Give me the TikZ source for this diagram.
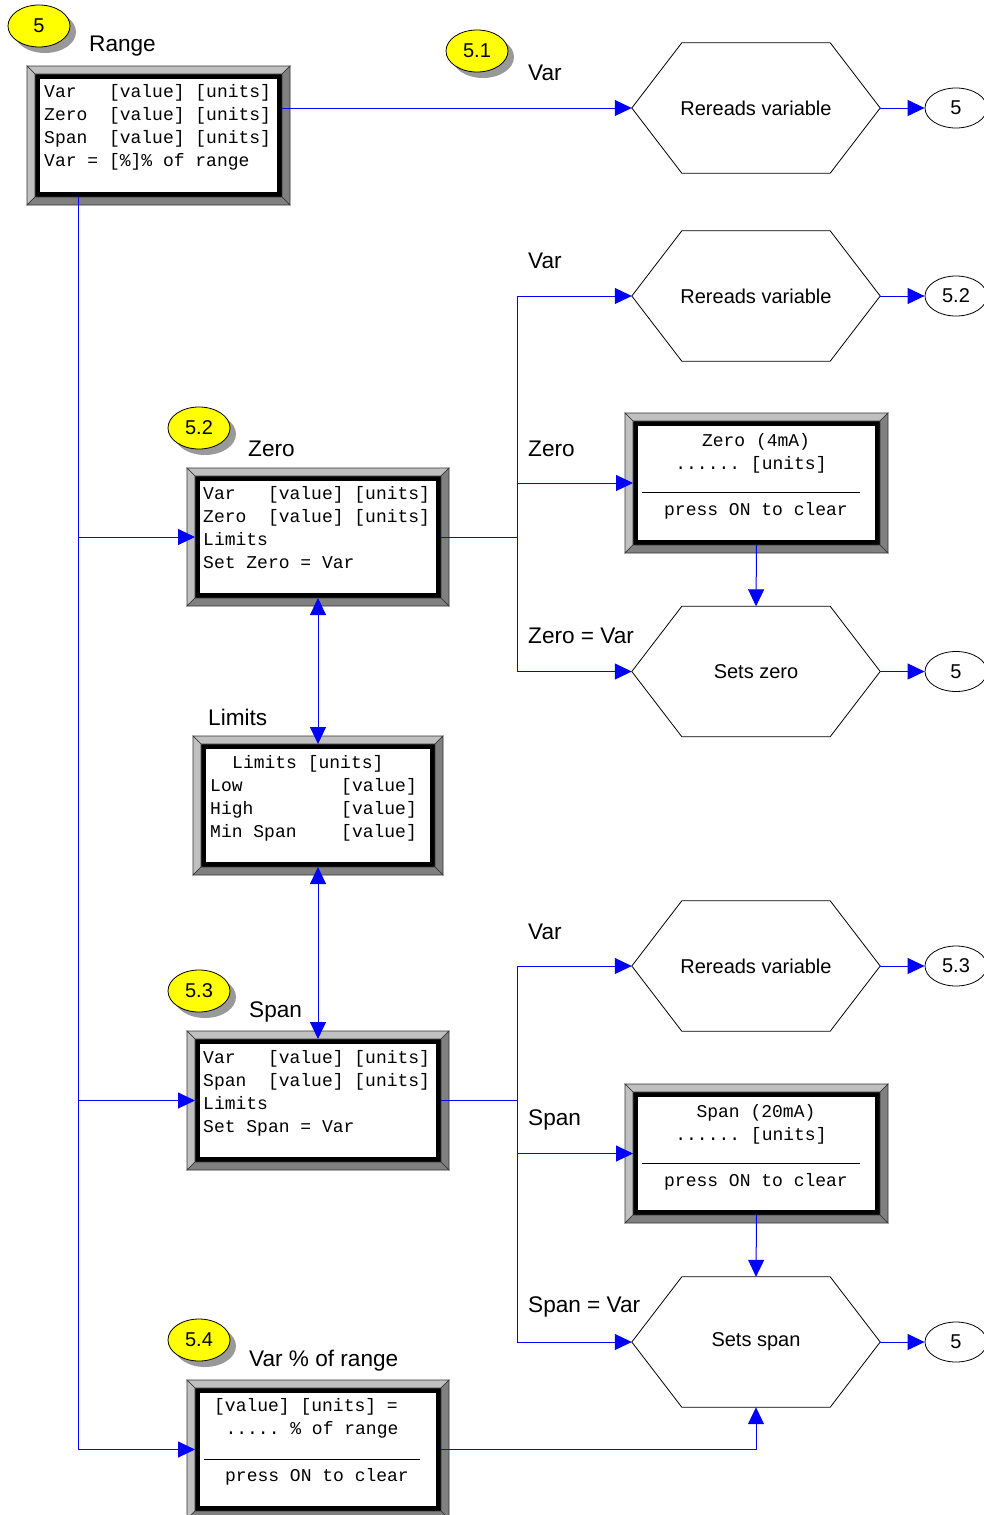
\documentclass[tikz,border=0pt]{standalone}
\usepackage{fontspec}
\setmainfont{Liberation Sans}
\newfontfamily\monof{Liberation Mono}
\usetikzlibrary{arrows.meta,calc,shapes.geometric,shadows}
\definecolor{conblue}{RGB}{0,0,255}
\definecolor{bevl}{RGB}{192,192,192}
\definecolor{bevd}{RGB}{128,128,128}
\definecolor{badgey}{RGB}{255,255,0}
\tikzset{
 conn/.style={draw=conblue, line width=1pt},
 arr/.style={conn, -{Triangle[length=17pt,width=16pt]}},
 darr/.style={conn, {Triangle[length=17pt,width=16pt]}-{Triangle[length=17pt,width=16pt]}},
 screen/.style={draw=black, line width=5pt, fill=white, inner sep=0pt},
 bevlightst/.style={fill=bevl, draw=black!80, line width=0.6pt},
 bevdarkst/.style={fill=bevd, draw=black!80, line width=0.6pt},
 mono/.style={font=\monof\fontsize{18}{22}\selectfont, inner sep=0pt},
 lbl/.style={font=\fontsize{22.6}{26}\selectfont, inner sep=0pt, anchor=west},
 hexbox/.style={minimum width=248pt, minimum height=130pt, inner sep=0pt, font=\fontsize{20}{24}\selectfont},
 endcirc/.style={ellipse, draw=black, line width=0.8pt, fill=white, minimum width=62pt, minimum height=40pt, inner sep=0pt, font=\fontsize{20}{24}\selectfont},
 badge/.style={ellipse, draw=black, line width=0.8pt, fill=badgey, minimum width=62pt, minimum height=42pt, inner sep=0pt, font=\fontsize{20}{24}\selectfont, drop shadow={shadow xshift=6pt, shadow yshift=-6pt, fill=black, opacity=0.4}},
 hrule/.style={draw=black, line width=0.8pt},
}
\newcommand{\bevelaround}[1]{%
 \coordinate (o1) at ($(#1.north west)+(-8,-8)$);
 \coordinate (o2) at ($(#1.north east)+(8,-8)$);
 \coordinate (o3) at ($(#1.south east)+(8,8)$);
 \coordinate (o4) at ($(#1.south west)+(-8,8)$);
 \filldraw[bevlightst] (o1) -- (o2) -- (#1.north east) -- (#1.north west) -- cycle;
 \filldraw[bevlightst] (o1) -- (#1.north west) -- (#1.south west) -- (o4) -- cycle;
 \filldraw[bevdarkst] (o2) -- (o3) -- (#1.south east) -- (#1.north east) -- cycle;
 \filldraw[bevdarkst] (o4) -- (#1.south west) -- (#1.south east) -- (o3) -- cycle;
}
\newcommand{\hexaround}[1]{%
 \draw[black, line width=0.8pt] (#1.west) -- ($(#1.north west)+(50,0)$) -- ($(#1.north east)+(-50,0)$) -- (#1.east) -- ($(#1.south east)+(-50,0)$) -- ($(#1.south west)+(50,0)$) -- cycle;
}
\begin{document}
\begin{tikzpicture}[x=1pt,y=-1pt]
\useasboundingbox[fill=white] (0,0) rectangle (983,1515);

% screens
\node[screen, minimum width=242pt, minimum height=118pt] (rng) at (158.5,135.5) {};
\bevelaround{rng}
\node[screen, minimum width=241pt, minimum height=117pt] (zero) at (318,537) {};
\bevelaround{zero}
\node[screen, minimum width=229pt, minimum height=118pt] (lim) at (318,805.5) {};
\bevelaround{lim}
\node[screen, minimum width=241pt, minimum height=118pt] (span) at (318,1100.5) {};
\bevelaround{span}
\node[screen, minimum width=242pt, minimum height=119pt] (zscr) at (756.5,483) {};
\bevelaround{zscr}
\node[screen, minimum width=242pt, minimum height=118pt] (sscr) at (756.5,1153.5) {};
\bevelaround{sscr}
\node[screen, minimum width=241pt, minimum height=118pt] (pct) at (318,1449.5) {};
\bevelaround{pct}

% screen texts
\node[mono, anchor=base west] (r1) at (44,97) {Var~~~[value]~[units]};
\node[mono, anchor=base west] (r2) at (44,120) {Zero~~[value]~[units]};
\node[mono, anchor=base west] (r3) at (44,143) {Span~~[value]~[units]};
\node[mono, anchor=base west] (r4) at (44,166) {Var~=~[\%]\%~of~range};

\node[mono, anchor=base west] (z1) at (203,499) {Var~~~[value]~[units]};
\node[mono, anchor=base west] (z2) at (203,522) {Zero~~[value]~[units]};
\node[mono, anchor=base west] (z3) at (203,545) {Limits};
\node[mono, anchor=base west] (z4) at (203,568) {Set~Zero~=~Var};

\node[mono, anchor=base west] (l0) at (232,768) {Limits~[units]};
\node[mono, anchor=base west] (l1) at (210,791) {Low};
\node[mono, anchor=base west] (l2) at (210,814) {High};
\node[mono, anchor=base west] (l3) at (210,837) {Min~Span};
\node[mono, anchor=base west] (l1v) at (341,791) {[value]};
\node[mono, anchor=base west] (l2v) at (341,814) {[value]};
\node[mono, anchor=base west] (l3v) at (341,837) {[value]};

\node[mono, anchor=base west] (s1) at (203,1063) {Var~~~[value]~[units]};
\node[mono, anchor=base west] (s2) at (203,1086) {Span~~[value]~[units]};
\node[mono, anchor=base west] (s3) at (203,1109) {Limits};
\node[mono, anchor=base west] (s4) at (203,1132) {Set~Span~=~Var};

\node[mono, anchor=base] (zs1) at (756,446) {Zero~(4mA)};
\node[mono, anchor=base] (zs2) at (751,469) {......~[units]};
\draw[hrule] (642,492) -- (860,492);
\node[mono, anchor=base] (zs3) at (756,515) {press~ON~to~clear};

\node[mono, anchor=base] (ss1) at (756,1117) {Span~(20mA)};
\node[mono, anchor=base] (ss2) at (751,1140) {......~[units]};
\draw[hrule] (642,1163) -- (860,1163);
\node[mono, anchor=base] (ss3) at (756,1186) {press~ON~to~clear};

\node[mono, anchor=base] (p1) at (306,1411) {[value]~[units]~=};
\node[mono, anchor=base] (p2) at (312,1434) {.....~\%~of~range};
\draw[hrule] (204,1459) -- (420,1459);
\node[mono, anchor=base] (p3) at (317,1481) {press~ON~to~clear};

% hexagons
\node[hexbox] (h1) at (756,108) {Rereads variable};
\hexaround{h1}
\node[hexbox] (h2) at (756,296) {Rereads variable};
\hexaround{h2}
\node[hexbox] (h3) at (756,671.5) {Sets zero};
\hexaround{h3}
\node[hexbox] (h4) at (756,966) {Rereads variable};
\hexaround{h4}
\node[hexbox] (h5) at (756,1342) {Sets span};
\hexaround{h5}

% end circles
\node[endcirc] (c1) at (956,108) {5};
\node[endcirc] (c2) at (956,296) {5.2};
\node[endcirc] (c3) at (956,671.5) {5};
\node[endcirc] (c4) at (956,966) {5.3};
\node[endcirc] (c5) at (956,1342) {5};

% badges
\node[badge] (b5) at (39,26) {5};
\node[badge] (b51) at (477,51) {5.1};
\node[badge] (b52) at (199,428) {5.2};
\node[badge] (b53) at (199,991) {5.3};
\node[badge] (b54) at (199,1340) {5.4};

% labels
\node[lbl] (t1) at (89,46) {Range};
\node[lbl] (t2) at (528,73) {Var};
\node[lbl] (t3) at (528,261) {Var};
\node[lbl] (t4) at (248,449) {Zero};
\node[lbl] (t5) at (528,449) {Zero};
\node[lbl] (t6) at (528,636) {Zero = Var};
\node[lbl] (t7) at (208,717) {Limits};
\node[lbl] (t8) at (528,932) {Var};
\node[lbl] (t9) at (249,1012) {Span};
\node[lbl] (t10) at (528,1120) {Span};
\node[lbl] (t11) at (528,1307) {Span = Var};
\node[lbl] (t12) at (249,1361) {Var \% of range};

% connectors
\coordinate (trk) at (78,0);
\coordinate (bus) at (517,0);
\draw[arr] (h1.west -| rng.east) -- (h1.west);
\draw[arr] (h1.east) -- (c1.west);
\draw[conn] (rng.south -| trk) -- (pct.west -| trk);
\draw[arr] (zero.west -| trk) -- (zero.west);
\draw[arr] (span.west -| trk) -- (span.west);
\draw[arr] (pct.west -| trk) -- (pct.west);

\draw[conn] (zero.east) -- (zero.east -| bus);
\draw[conn] (h2.west -| bus) -- (h3.west -| bus);
\draw[arr] (h2.west -| bus) -- (h2.west);
\draw[arr] (zscr.west -| bus) -- (zscr.west);
\draw[arr] (h3.west -| bus) -- (h3.west);
\draw[arr] (zscr.south) -- (h3.north);
\draw[arr] (h2.east) -- (c2.west);
\draw[arr] (h3.east) -- (c3.west);

\draw[darr] (zero.south) -- (lim.north);
\draw[darr] (lim.south) -- (span.north);

\draw[conn, line width=1.6pt] (span.east) -- (span.east -| bus);
\draw[conn] (h4.west -| bus) -- (h5.west -| bus);
\draw[arr] (h4.west -| bus) -- (h4.west);
\draw[arr] (sscr.west -| bus) -- (sscr.west);
\draw[arr] (h5.west -| bus) -- (h5.west);
\draw[arr] (sscr.south) -- (h5.north);
\draw[arr] (h4.east) -- (c4.west);
\draw[arr] (h5.east) -- (c5.west);

\draw[arr] (pct.east) -| (h5.south);
\end{tikzpicture}
\end{document}
